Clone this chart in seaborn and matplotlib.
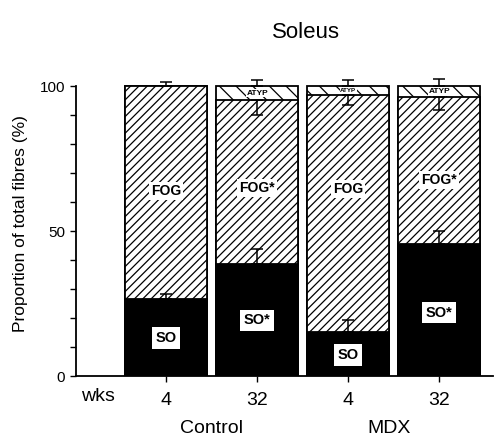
import matplotlib
matplotlib.use("Agg")
import matplotlib.pyplot as plt
import seaborn as sns
import pandas as pd
import numpy as np

# ---- data ----
groups = ["Control", "Control", "MDX", "MDX"]
weeks = ["4", "32", "4", "32"]
bar_ids = ["C4", "C32", "M4", "M32"]
so = [26.7, 38.6, 15.4, 45.5]
fog = [73.3, 56.6, 81.5, 50.6]
atyp = [0.0, 4.8, 3.1, 3.9]
so_err_up = [1.7, 5.4, 4.1, 4.5]
fog_err_down = [0.0, 5.2, 3.5, 4.4]
top_err_up = [1.3, 2.0, 2.0, 2.5]
so_labels = ["SO", "SO*", "SO", "SO*"]
fog_labels = ["FOG", "FOG*", "FOG", "FOG*"]
atyp_labels = ["", "ATYP", "ATYP", "ATYP"]
so_label_y = [13.3, 19.4, 7.4, 22.0]
fog_label_y = [64.0, 65.0, 64.5, 67.7]

df = pd.DataFrame({
    "bar": bar_ids,
    "so": so,
    "sofog": np.array(so) + np.array(fog),
    "total": np.array(so) + np.array(fog) + np.array(atyp),
})

sns.set_style("ticks", {"axes.edgecolor": "black", "text.color": "black",
                        "xtick.color": "black", "ytick.color": "black",
                        "axes.labelcolor": "black"})
plt.rcParams["font.family"] = ["Liberation Sans", "DejaVu Sans"]
plt.rcParams["hatch.linewidth"] = 0.9
plt.rcParams["hatch.color"] = "black"

fig = plt.figure(figsize=(4.97, 4.42), dpi=100)
ax = fig.add_axes([0.1529, 0.1482, 0.839, 0.690])

sns.barplot(data=df, x="bar", y="total", order=bar_ids, color="white",
            edgecolor="black", linewidth=1.3, hatch="\\\\", width=0.9,
            errorbar=None, ax=ax)
sns.barplot(data=df, x="bar", y="sofog", order=bar_ids, color="white",
            edgecolor="black", linewidth=1.3, hatch="////", width=0.9,
            errorbar=None, ax=ax)
sns.barplot(data=df, x="bar", y="so", order=bar_ids, color="black",
            edgecolor="black", linewidth=1.3, width=0.9,
            errorbar=None, ax=ax)

xs = np.arange(len(bar_ids))
ekw = dict(fmt="none", ecolor="black", elinewidth=1.1, capsize=4, capthick=1.1, clip_on=False)
ax.errorbar(xs, df["so"], yerr=[np.zeros(4), so_err_up], **ekw)
ax.errorbar(xs, df["total"], yerr=[np.zeros(4), top_err_up], **ekw)
mask = np.array(fog_err_down) > 0
ax.errorbar(xs[mask], df["sofog"][mask], yerr=[np.array(fog_err_down)[mask], np.zeros(mask.sum())], **ekw)

box = dict(boxstyle="square,pad=0.25", fc="white", ec="none")
for i in range(4):
    ax.text(xs[i], so_label_y[i], so_labels[i], ha="center", va="center",
            fontsize=10.5, fontweight="bold", color="black", bbox=box)
    ax.text(xs[i], fog_label_y[i], fog_labels[i], ha="center", va="center",
            fontsize=10, fontweight="bold", color="black",
            bbox=dict(boxstyle="square,pad=0.15", fc="white", ec="none"))
    if atyp_labels[i]:
        fs = 6 if i != 2 else 4.5
        ax.text(xs[i], df["sofog"][i] + atyp[i] / 2, atyp_labels[i], ha="center",
                va="center", fontsize=fs, fontweight="bold", color="black",
                bbox=dict(boxstyle="square,pad=0.1", fc="white", ec="none"))

ax.set_xlim(-0.99, 3.59)
ax.set_ylim(0, 105)
ax.set_yticks(np.arange(0, 101, 10))
ax.set_yticklabels(["0", "", "", "", "", "50", "", "", "", "", "100"], fontsize=11)
ax.set_xticks(xs)
ax.set_xticklabels(weeks, fontsize=14)
ax.tick_params(axis="x", length=4, width=1, pad=7, colors="black")
ax.tick_params(axis="y", length=4, width=1, pad=4, colors="black")
ax.set_xlabel("")
ax.set_ylabel("Proportion of total fibres (%)", fontsize=12.5, labelpad=8, color="black")
ax.text(-0.75, -0.067, "wks", transform=ax.get_xaxis_transform(), ha="center",
        va="center", fontsize=14, color="black")
for sp in ["top", "right"]:
    ax.spines[sp].set_visible(False)
ax.spines["left"].set_bounds(0, 100)
ax.spines["left"].set_linewidth(1.3)
ax.spines["bottom"].set_linewidth(1.3)

ax.text(0.5, -0.17, "Control", transform=ax.get_xaxis_transform(), ha="center",
        va="center", fontsize=14, color="black")
ax.text(2.45, -0.17, "MDX", transform=ax.get_xaxis_transform(), ha="center",
        va="center", fontsize=14, color="black")

fig.text(306 / 497, 1 - 32 / 442, "Soleus", ha="center", va="center", fontsize=16,
         color="black")

fig.savefig("out.png", dpi=100)
